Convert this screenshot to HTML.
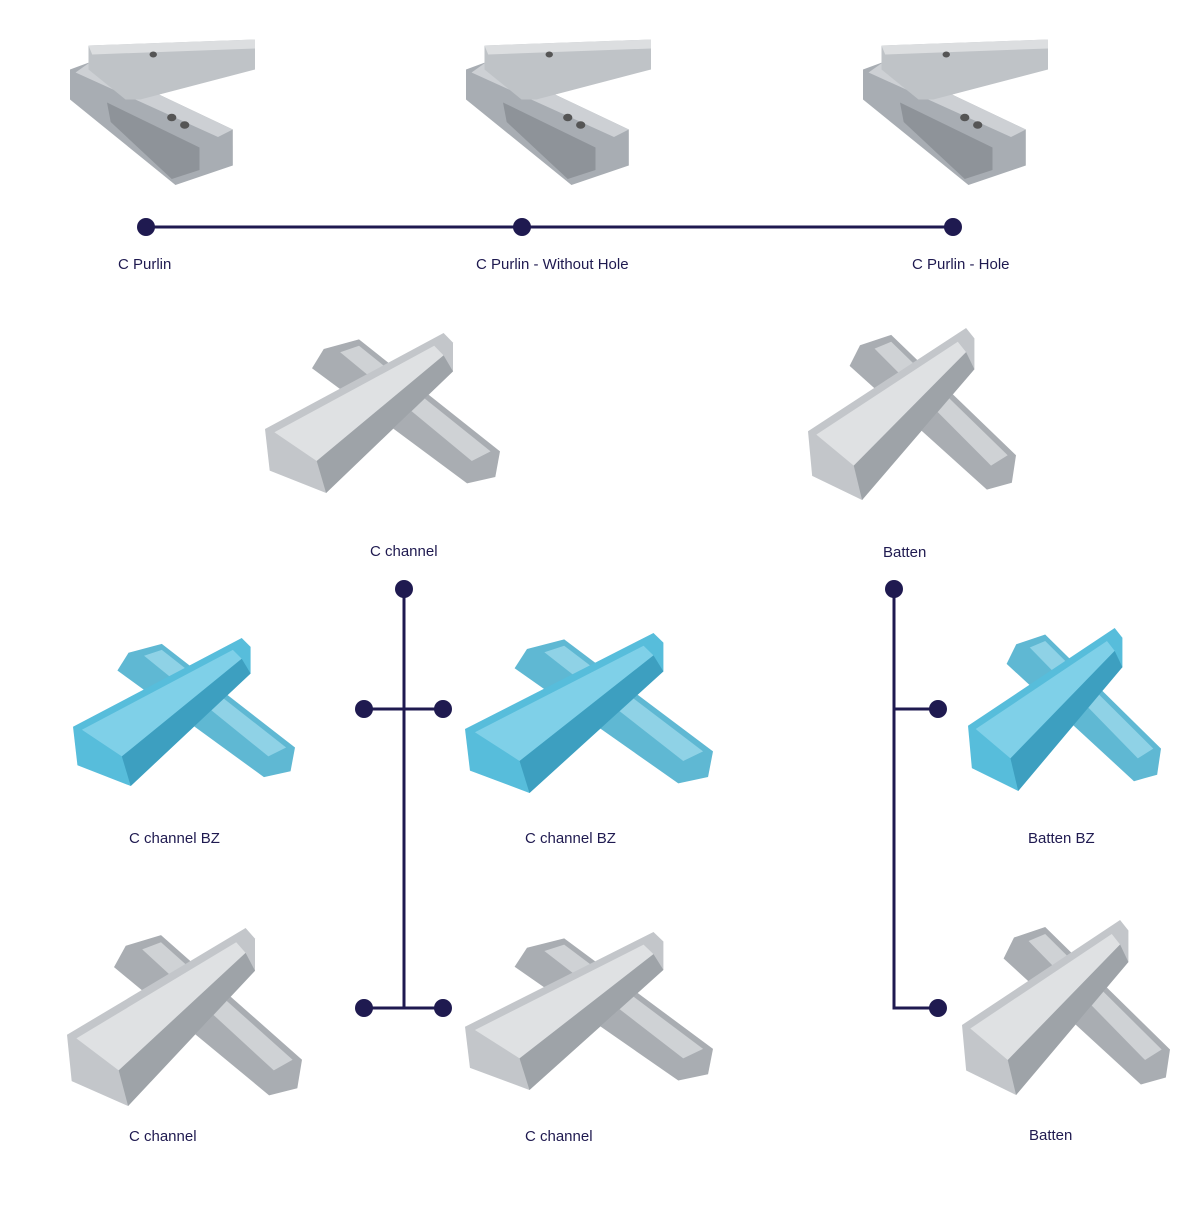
<!DOCTYPE html>
<html><head><meta charset="utf-8"><style>
html,body{margin:0;padding:0;background:#fff;width:1200px;height:1209px;overflow:hidden}
svg text{font-family:"Liberation Sans",sans-serif;font-size:15px;fill:#1f1a50}
</style></head><body>
<svg width="1200" height="1209" viewBox="0 0 1200 1209" xmlns="http://www.w3.org/2000/svg">
<defs>
<g id="crossG">
<polygon points="25,10 40,4 100,74 98,90 86,94 20,22" fill="#a9adb2"/>
<polygon points="32,12 40,8 96,74 88,80" fill="#cfd2d5"/>
<polygon points="0,60 76,0 80,6 80,24 26,100 2,86" fill="#c3c6ca"/>
<polygon points="4,62 72,8 76,14 22,80" fill="#dfe1e3"/>
<polygon points="22,80 76,14 80,24 26,100" fill="#9ea3a8"/>
</g>
<g id="crossB">
<polygon points="25,10 40,4 100,74 98,90 86,94 20,22" fill="#5fb8d3"/>
<polygon points="32,12 40,8 96,74 88,80" fill="#8fd2e6"/>
<polygon points="0,60 76,0 80,6 80,24 26,100 2,86" fill="#57bddb"/>
<polygon points="4,62 72,8 76,14 22,80" fill="#7fd0e8"/>
<polygon points="22,80 76,14 80,24 26,100" fill="#3d9fc0"/>
</g>
<g id="purlin">
<polygon points="0,23 11,18 88,63 88,87 57,100 0,43" fill="#a8adb3"/>
<polygon points="11,18 88,63 80,68 3,25" fill="#cdd0d4"/>
<polygon points="20,45 70,75 70,90 55,96 22,58" fill="#8e9399"/>
<polygon points="10,7 100,3 100,23 38,43 30,43 10,23" fill="#bfc3c7"/>
<polygon points="10,7 100,3 100,9 12,13" fill="#dcdee0"/>
<circle cx="45" cy="13" r="2" fill="#555"/><circle cx="55" cy="55" r="2.5" fill="#555"/><circle cx="62" cy="60" r="2.5" fill="#555"/>
</g>
</defs>
<g transform="translate(70,35) scale(1.85,1.5)"><use href="#purlin"/></g>
<g transform="translate(466,35) scale(1.85,1.5)"><use href="#purlin"/></g>
<g transform="translate(863,35) scale(1.85,1.5)"><use href="#purlin"/></g>

<g transform="translate(265,333) scale(2.35,1.6)"><use href="#crossG"/></g>
<g transform="translate(808,328) scale(2.08,1.72)"><use href="#crossG"/></g>
<g transform="translate(73,638) scale(2.22,1.48)"><use href="#crossB"/></g>
<g transform="translate(465,633) scale(2.48,1.6)"><use href="#crossB"/></g>
<g transform="translate(968,628) scale(1.93,1.63)"><use href="#crossB"/></g>
<g transform="translate(67,928) scale(2.35,1.78)"><use href="#crossG"/></g>
<g transform="translate(465,932) scale(2.48,1.58)"><use href="#crossG"/></g>
<g transform="translate(962,920) scale(2.08,1.75)"><use href="#crossG"/></g>

<g stroke="#1f1a50" stroke-width="3" fill="none">
<line x1="146" y1="227" x2="953" y2="227"/>
<line x1="404" y1="589" x2="404" y2="1008"/>
<line x1="364" y1="709" x2="443" y2="709"/>
<line x1="364" y1="1008" x2="443" y2="1008"/>
<polyline points="894,589 894,709 938,709"/>
<polyline points="894,709 894,1008 938,1008"/>
</g>
<g fill="#1f1a50">
<circle cx="146" cy="227" r="9"/><circle cx="522" cy="227" r="9"/><circle cx="953" cy="227" r="9"/>
<circle cx="404" cy="589" r="9"/><circle cx="364" cy="709" r="9"/><circle cx="443" cy="709" r="9"/>
<circle cx="364" cy="1008" r="9"/><circle cx="443" cy="1008" r="9"/>
<circle cx="894" cy="589" r="9"/><circle cx="938" cy="709" r="9"/><circle cx="938" cy="1008" r="9"/>
</g>
<text x="118" y="269">C Purlin</text>
<text x="476" y="269">C Purlin - Without Hole</text>
<text x="912" y="269">C Purlin - Hole</text>
<text x="370" y="556">C channel</text>
<text x="883" y="557">Batten</text>
<text x="129" y="843">C channel BZ</text>
<text x="525" y="843">C channel BZ</text>
<text x="1028" y="843">Batten BZ</text>
<text x="129" y="1141">C channel</text>
<text x="525" y="1141">C channel</text>
<text x="1029" y="1140">Batten</text>
</svg>
</body></html>
